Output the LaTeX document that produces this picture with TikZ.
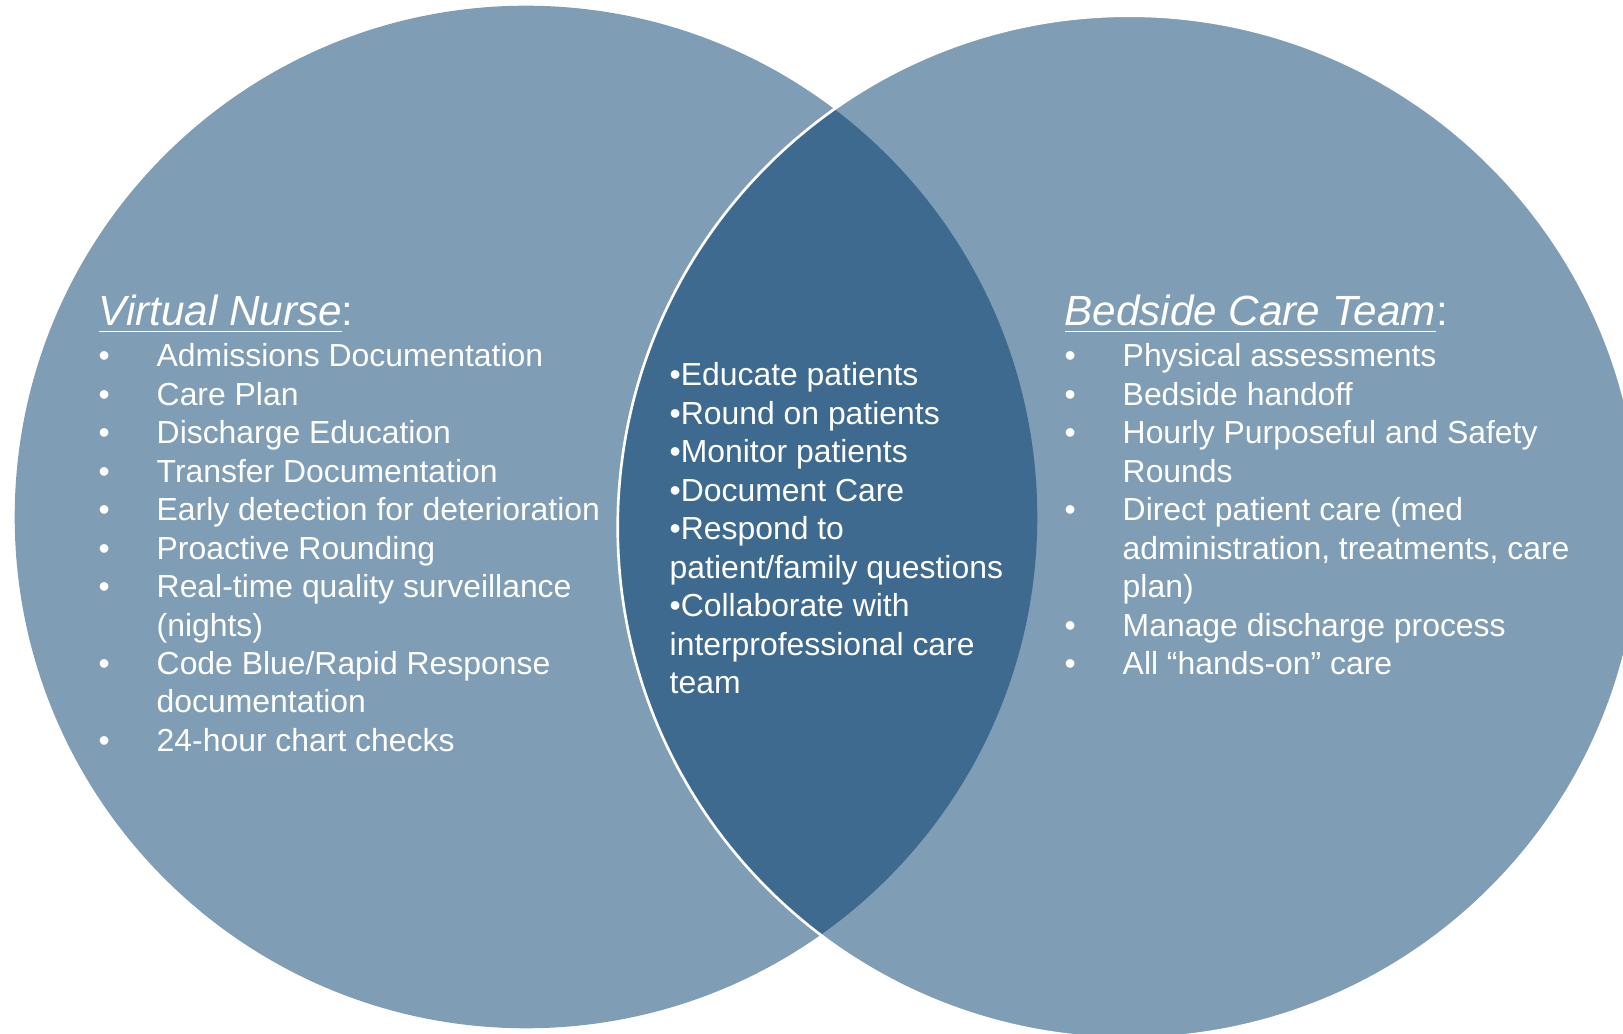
\documentclass[tikz,border=0pt]{standalone}
\usepackage{fontspec}
\setmainfont{Liberation Sans}
\usetikzlibrary{positioning}

\definecolor{setblue}{RGB}{127,158,182}
\definecolor{overlapblue}{RGB}{63,106,143}

% one bullet row of a side list
\newcommand{\li}[1]{\textbullet & #1\\}
\newcommand{\lc}[1]{& #1\\}

\begin{document}
\begin{tikzpicture}[x=0.01cm,y=-0.01cm,
                    heading/.style={anchor=base west,inner sep=0pt,text=white,
                                    font=\fontsize{12}{14.4}\selectfont},
                    itemlist/.style={anchor=base west,inner sep=0pt,text=white,
                                     font=\fontsize{9.07}{10.93}\selectfont}]
    \useasboundingbox (0,0) rectangle (1623,1034);
    \clip (0,0) rectangle (1623,1034);

    \coordinate (vnc) at (526,517);
    \coordinate (bcc) at (1129,527);

    % the two sets and their overlap
    \fill [setblue] (vnc) circle [radius=5.11cm];
    \fill [setblue] (bcc) circle [radius=5.11cm];
    \begin{scope}
        \clip (vnc) circle [radius=5.11cm];
        \fill [overlapblue] (bcc) circle [radius=5.11cm];
    \end{scope}
    \draw [white,line width=0.75pt] (bcc) circle [radius=5.11cm];

    % left set
    \node (vnhead) [heading] at (98,326) {\underline{\itshape Virtual Nurse}:};
    \node (vnlist) [itemlist] at (98,367) {%
        \begin{tabular}[t]{@{}p{16.5pt}@{}l@{}}
            \li{Admissions Documentation}
            \li{Care Plan}
            \li{Discharge Education}
            \li{Transfer Documentation}
            \li{Early detection for deterioration}
            \li{Proactive Rounding}
            \li{Real-time quality surveillance}
            \lc{(nights)}
            \li{Code Blue/Rapid Response}
            \lc{documentation}
            \li{24-hour chart checks}
        \end{tabular}};

    % overlap
    \node (bothlist) [itemlist] at (669,386) {%
        \begin{tabular}[t]{@{}l@{}}
            \textbullet Educate patients\\
            \textbullet Round on patients\\
            \textbullet Monitor patients\\
            \textbullet Document Care\\
            \textbullet Respond to\\
            patient/family questions\\
            \textbullet Collaborate with\\
            interprofessional care\\
            team
        \end{tabular}};

    % right set
    \node (bchead) [heading] at (1064,326) {\underline{\itshape Bedside Care Team}:};
    \node (bclist) [itemlist] at (1064,367) {%
        \begin{tabular}[t]{@{}p{16.5pt}@{}l@{}}
            \li{Physical assessments}
            \li{Bedside handoff}
            \li{Hourly Purposeful and Safety}
            \lc{Rounds}
            \li{Direct patient care (med}
            \lc{administration, treatments, care}
            \lc{plan)}
            \li{Manage discharge process}
            \li{All “hands-on” care}
        \end{tabular}};
\end{tikzpicture}
\end{document}
